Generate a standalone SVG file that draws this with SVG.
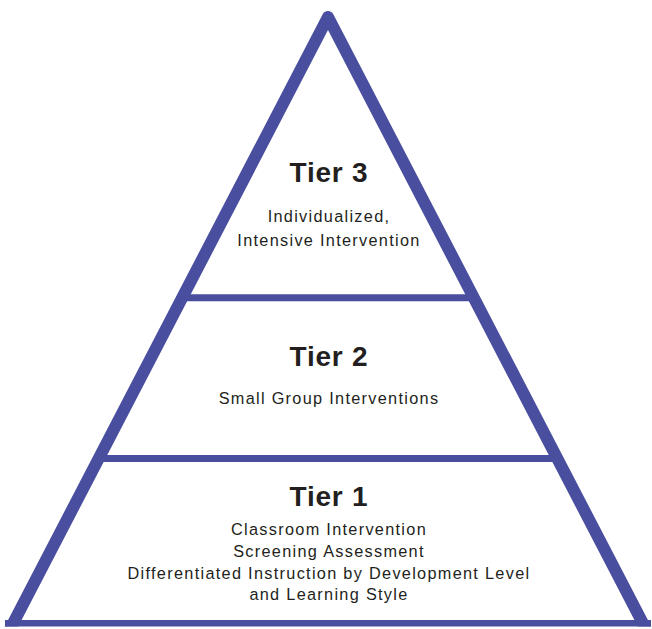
<svg xmlns="http://www.w3.org/2000/svg" width="652" height="629" viewBox="0 0 652 629">
<defs>
<style>
.edge{fill:none;stroke:#4a4e9f;stroke-linejoin:round}
.title{font-family:"Liberation Sans",Arial,sans-serif;font-weight:bold;font-size:28px;letter-spacing:0.8px;fill:#231f20;text-anchor:middle}
.sub{font-family:"Liberation Sans",Arial,sans-serif;font-size:16.3px;letter-spacing:1.3px;fill:#231f20;text-anchor:middle}
</style>
<clipPath id="clip"><rect x="0" y="0" width="652" height="626.5"/></clipPath>
</defs>
<rect width="652" height="629" fill="#ffffff"/>
<g id="connectors">
<line class="edge" x1="184" y1="297.7" x2="472" y2="297.7" stroke-width="7"/>
<line class="edge" x1="100" y1="458.5" x2="556" y2="458.5" stroke-width="7"/>
<line class="edge" x1="5" y1="623.3" x2="651" y2="623.3" stroke-width="6.5"/>
<path class="edge" clip-path="url(#clip)" d="M 6 637 L 328 17 L 650 637" stroke-width="12"/>
</g>
<g id="tier3">
<text class="title" x="329" y="182">Tier 3</text>
<text class="sub" x="329" y="222">Individualized,</text>
<text class="sub" x="329" y="246">Intensive Intervention</text>
</g>
<g id="tier2">
<text class="title" x="329" y="366">Tier 2</text>
<text class="sub" x="329" y="404">Small Group Interventions</text>
</g>
<g id="tier1">
<text class="title" x="329" y="506">Tier 1</text>
<text class="sub" x="329" y="535">Classroom Intervention</text>
<text class="sub" x="329" y="557">Screening Assessment</text>
<text class="sub" x="329" y="579">Differentiated Instruction by Development Level</text>
<text class="sub" x="329" y="600">and Learning Style</text>
</g>
</svg>
